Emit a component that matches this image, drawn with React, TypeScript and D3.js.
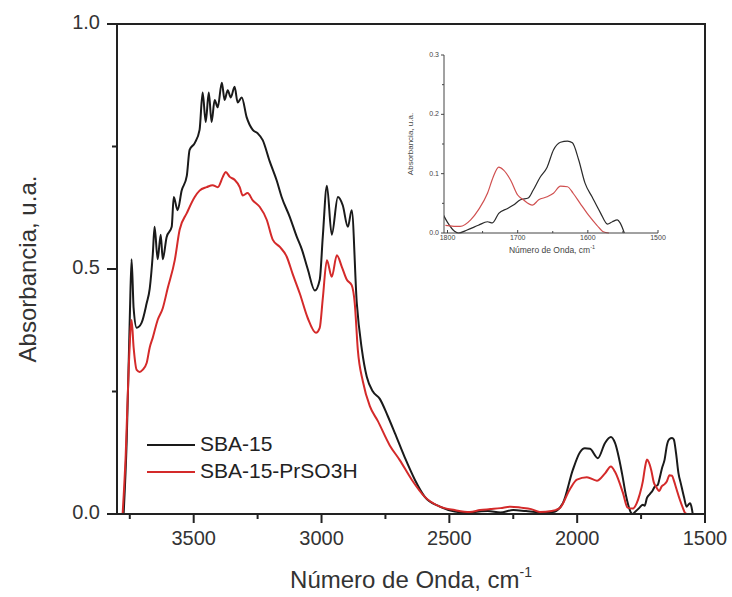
import React from "react";
import * as d3 from "d3";

// ---------- DATA ----------
const sbaWave = [
  3774, 3762, 3750, 3743, 3735, 3723, 3704, 3684, 3672, 3660, 3653, 3641, 3629, 3621, 3606, 3586, 3578, 3563,
  3547, 3527, 3516, 3496, 3477, 3465, 3453, 3441, 3430, 3418, 3406, 3390, 3379, 3367, 3355, 3340, 3328, 3312,
  3293, 3269, 3250, 3230, 3203, 3175, 3156, 3124, 3097, 3077, 3054, 3026, 3007, 2995, 2979, 2960, 2936, 2917,
  2897, 2882, 2862, 2842, 2823, 2799, 2772, 2741, 2713, 2674, 2635, 2596, 2537, 2479, 2420, 2400, 2350, 2300,
  2250, 2200, 2150, 2100, 2095, 2056, 2017, 1989, 1970, 1950, 1919, 1891, 1868, 1852, 1825, 1810, 1800, 1790,
  1784, 1772, 1756, 1743, 1736, 1727, 1715, 1706, 1696, 1685, 1678, 1668, 1658, 1649, 1639, 1629, 1622, 1613,
  1604, 1594, 1582, 1572, 1565, 1558, 1554, 1548,
];
const sbaAbs = [
  0.0, 0.15, 0.4, 0.52, 0.42, 0.38, 0.39, 0.43, 0.46, 0.53, 0.586, 0.52, 0.57, 0.52, 0.565, 0.586, 0.647, 0.62,
  0.66, 0.69, 0.743, 0.757, 0.784, 0.86, 0.8, 0.86, 0.8, 0.845, 0.83, 0.88, 0.845, 0.865, 0.85, 0.872, 0.84, 0.85,
  0.81, 0.784, 0.777, 0.763, 0.72, 0.68, 0.647, 0.606, 0.566, 0.54, 0.5, 0.456, 0.478, 0.566, 0.67, 0.57, 0.647, 0.63,
  0.586, 0.62, 0.43, 0.335, 0.28, 0.25, 0.235, 0.2, 0.165, 0.115, 0.07, 0.035, 0.015, 0.005, 0.002, 0.004, 0.006, 0.003,
  0.008, 0.006, 0.004, 0.004, 0.004, 0.022, 0.09, 0.126, 0.134, 0.133, 0.114, 0.145, 0.157, 0.145, 0.084, 0.04, 0.018, 0.003,
  0.0, 0.005, 0.013, 0.019, 0.017, 0.033, 0.041, 0.047, 0.056, 0.059, 0.072, 0.094, 0.111, 0.14, 0.153, 0.155, 0.152, 0.123,
  0.084, 0.061, 0.034, 0.015, 0.019, 0.022, 0.017, 0.0,
];

const prWave = [
  3778, 3766, 3754, 3743, 3735, 3723, 3711, 3700, 3684, 3672, 3660, 3641, 3621, 3602, 3574, 3555, 3527, 3496,
  3477, 3449, 3426, 3406, 3386, 3375, 3359, 3340, 3320, 3308, 3289, 3269, 3242, 3214, 3191, 3163, 3136, 3113,
  3085, 3054, 3022, 3007, 2995, 2979, 2960, 2940, 2921, 2901, 2882, 2870, 2858, 2838, 2811, 2780, 2733, 2694,
  2647, 2596, 2537, 2479, 2420, 2380, 2340, 2300, 2260, 2220, 2180, 2146, 2100, 2068, 2029, 2001, 1962, 1923,
  1891, 1868, 1852, 1821, 1803, 1782, 1767, 1756, 1743, 1735, 1727, 1720, 1710, 1700, 1692, 1679, 1670, 1658,
  1649, 1639, 1629, 1621, 1611, 1599, 1587, 1578, 1570,
];
const prAbs = [
  0.0, 0.12, 0.3, 0.396, 0.34, 0.294, 0.29, 0.294, 0.308, 0.34, 0.36, 0.396, 0.42, 0.46, 0.518, 0.58, 0.614, 0.647,
  0.66, 0.667, 0.671, 0.667, 0.688, 0.698, 0.688, 0.682, 0.667, 0.65, 0.655, 0.64, 0.627, 0.6, 0.56, 0.545, 0.525, 0.49,
  0.45, 0.4, 0.37, 0.38, 0.44, 0.518, 0.484, 0.528, 0.505, 0.478, 0.467, 0.43, 0.335, 0.27, 0.22, 0.19, 0.14, 0.11,
  0.07, 0.035, 0.015, 0.008, 0.004, 0.008, 0.01, 0.012, 0.015, 0.013, 0.01, 0.004, 0.006, 0.012, 0.05, 0.07, 0.075, 0.068,
  0.083, 0.097, 0.086, 0.043, 0.013, 0.011, 0.022, 0.039, 0.067, 0.094, 0.111, 0.106, 0.089, 0.064, 0.056, 0.047, 0.056, 0.061,
  0.067, 0.079, 0.078, 0.067, 0.05, 0.03, 0.013, 0.002, 0.0,
];

const seriesNames = ["SBA-15", "SBA-15-PrSO3H"];
const seriesColors = ["#1a1a1a", "#d42a2a"];
const xMajorTicks = [3500, 3000, 2500, 2000, 1500];
const xMinorTicks = [3750, 3250, 2750, 2250, 1750];
const yMajorTicks = [0, 0.5, 1.0];
const yMinorTicks = [0.25, 0.75];
const insetXMajor = [1800, 1700, 1600, 1500];
const insetXMinor = [1750, 1650, 1550];
const insetYMajor = [0, 0.1, 0.2, 0.3];
const insetYMinor = [0.05, 0.15, 0.25];

type P = [number, number];
const zip = (w: number[], a: number[]): P[] => w.map((v, i) => [v, a[i]] as P);

export default function App() {
  const W = 732, H = 597;
  const L = 117, R = 705, T = 24, B = 514;
  const x = d3.scaleLinear().domain([3800, 1500]).range([L, R]);
  const y = d3.scaleLinear().domain([0, 1]).range([B, T]);

  const iL = 444, iR = 658, iT = 55, iB = 233;
  const ix = d3.scaleLinear().domain([1805, 1500]).range([iL, iR]);
  const iy = d3.scaleLinear().domain([0, 0.3]).range([iB, iT]);

  const data = [zip(sbaWave, sbaAbs), zip(prWave, prAbs)];

  const line = d3.line<P>().x((d) => x(d[0])).y((d) => y(d[1])).curve(d3.curveMonotoneX);
  const iline = d3.line<P>().x((d) => ix(d[0])).y((d) => iy(d[1])).curve(d3.curveMonotoneX);

  const font = "'Liberation Sans', Arial, Helvetica, sans-serif";
  const axisColor = "#222";
  const textColor = "#333";
  const fmt = d3.format(".1f");

  return (
    <svg width={W} height={H} style={{ position: "absolute", left: 0, top: 0, background: "#fff" }} fontFamily={font}>
      <defs>
        <clipPath id="mainclip">
          <rect x={L} y={T - 2} width={R - L} height={B - T + 2} />
        </clipPath>
        <clipPath id="insetclip">
          <rect x={iL} y={iT} width={iR - iL} height={iB - iT + 1} />
        </clipPath>
      </defs>

      {/* main curves */}
      <g clipPath="url(#mainclip)">
        {data.map((d, i) => (
          <path key={i} d={line(d) || ""} fill="none" stroke={seriesColors[i]} strokeWidth={2} strokeLinejoin="round" />
        ))}
      </g>

      {/* frame */}
      <rect x={L} y={T} width={R - L} height={B - T} fill="none" stroke={axisColor} strokeWidth={2} />

      {/* x ticks */}
      {xMajorTicks.map((t) => (
        <g key={"xm" + t}>
          <line x1={x(t)} x2={x(t)} y1={B} y2={B + 9} stroke={axisColor} strokeWidth={2} />
          <text x={x(t)} y={B + 26} textAnchor="middle" dominantBaseline="middle" fontSize={20} fill={textColor}>
            {t}
          </text>
        </g>
      ))}
      {xMinorTicks.map((t) => (
        <line key={"xn" + t} x1={x(t)} x2={x(t)} y1={B} y2={B + 5} stroke={axisColor} strokeWidth={2} />
      ))}
      {/* y ticks */}
      {yMajorTicks.map((t) => (
        <g key={"ym" + t}>
          <line x1={L - 10} x2={L} y1={y(t)} y2={y(t)} stroke={axisColor} strokeWidth={2} />
          <text x={100} y={y(t)} textAnchor="end" dominantBaseline="middle" fontSize={20} fill={textColor}>
            {fmt(t)}
          </text>
        </g>
      ))}
      {yMinorTicks.map((t) => (
        <line key={"yn" + t} x1={L - 5} x2={L} y1={y(t)} y2={y(t)} stroke={axisColor} strokeWidth={2} />
      ))}

      {/* axis titles */}
      <text
        transform={`translate(30,${(T + B) / 2}) rotate(-90)`}
        textAnchor="middle"
        dominantBaseline="middle"
        fontSize={24}
        fill={textColor}
      >
        Absorbancia, u.a.
      </text>
      <text x={411} y={588} textAnchor="middle" fontSize={24} fill={textColor}>
        Número de Onda, cm
        <tspan fontSize={14} dy={-11}>-1</tspan>
      </text>

      {/* legend */}
      {seriesNames.map((n, i) => (
        <g key={n}>
          <line x1={147} x2={195} y1={445 + i * 27} y2={445 + i * 27} stroke={seriesColors[i]} strokeWidth={2} />
          <text x={200} y={445 + i * 27} dominantBaseline="middle" fontSize={21} fill="#222">
            {n}
          </text>
        </g>
      ))}

      {/* inset */}
      <g clipPath="url(#insetclip)">
        {data.map((d, i) => (
          <path
            key={"i" + i}
            d={iline(d.filter((p) => p[0] <= 1820)) || ""}
            fill="none"
            stroke={i === 0 ? "#2a2a2a" : "#d05050"}
            strokeWidth={1.2}
          />
        ))}
      </g>
      <line x1={iL} x2={iL} y1={iT} y2={iB} stroke="#444" strokeWidth={1} />
      <line x1={iL} x2={iR} y1={iB} y2={iB} stroke="#444" strokeWidth={1} />
      {insetXMajor.map((t) => (
        <g key={"ix" + t}>
          <line x1={ix(t)} x2={ix(t)} y1={iB} y2={iB - 3} stroke="#444" strokeWidth={1} />
          <text x={ix(t)} y={iB + 5} textAnchor="middle" dominantBaseline="middle" fontSize={7} fill="#444">
            {t}
          </text>
        </g>
      ))}
      {insetXMinor.map((t) => (
        <line key={"ixn" + t} x1={ix(t)} x2={ix(t)} y1={iB} y2={iB - 2} stroke="#444" strokeWidth={1} />
      ))}
      {insetYMajor.map((t) => (
        <g key={"iy" + t}>
          <line x1={iL - 3} x2={iL} y1={iy(t)} y2={iy(t)} stroke="#444" strokeWidth={1} />
          <text x={iL - 5} y={iy(t)} textAnchor="end" dominantBaseline="middle" fontSize={7} fill="#444">
            {fmt(t)}
          </text>
        </g>
      ))}
      {insetYMinor.map((t) => (
        <line key={"iyn" + t} x1={iL - 2} x2={iL} y1={iy(t)} y2={iy(t)} stroke="#444" strokeWidth={1} />
      ))}
      <text
        transform={`translate(411,${(iT + iB) / 2}) rotate(-90)`}
        textAnchor="middle"
        dominantBaseline="middle"
        fontSize={8}
        fill="#444"
      >
        Absorbancia, u.a.
      </text>
      <text x={552} y={253} textAnchor="middle" fontSize={8.5} fill="#444">
        Número de Onda, cm
        <tspan fontSize={5.5} dy={-4}>-1</tspan>
      </text>
    </svg>
  );
}
